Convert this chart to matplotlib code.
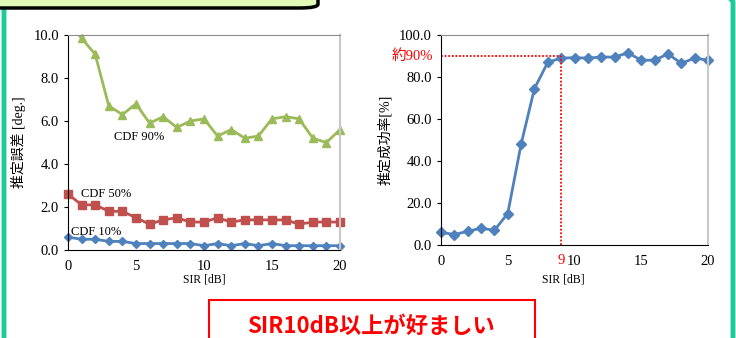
import numpy as np
import matplotlib
matplotlib.use("Agg")
import matplotlib.pyplot as plt
from matplotlib.patches import FancyBboxPatch, Rectangle

# data
sir = list(range(0, 21))
cdf90 = [10.6, 9.85, 9.1, 6.7, 6.3, 6.8, 5.9, 6.2, 5.7, 6.0, 6.1,
         5.3, 5.6, 5.2, 5.3, 6.1, 6.2, 6.1, 5.2, 5.0, 5.6]
cdf50 = [2.6, 2.1, 2.1, 1.8, 1.8, 1.5, 1.2, 1.4, 1.5, 1.3, 1.3,
         1.5, 1.3, 1.4, 1.4, 1.4, 1.4, 1.2, 1.3, 1.3, 1.3]
cdf10 = [0.6, 0.5, 0.5, 0.4, 0.4, 0.3, 0.3, 0.3, 0.3, 0.3, 0.2,
         0.3, 0.2, 0.3, 0.2, 0.3, 0.2, 0.2, 0.2, 0.2, 0.2]
success = [6, 5, 6.5, 8, 7, 15, 48, 74.5, 87, 89, 89.2,
           89, 89.5, 89.5, 91.5, 88, 88, 91, 86.5, 89, 88]
mark_x = 9
mark_y = 90

SERIF = ['Liberation Serif', 'Noto Sans CJK JP']
GOTH = ['Noto Sans CJK JP', 'DejaVu Sans']
plt.rcParams['font.family'] = SERIF

c_green = '#9BBB59'
c_red = '#C0504D'
c_blue = '#4F81BD'

fig = plt.figure(figsize=(7.36, 3.38), dpi=100)

def style_axes(ax):
    ax.set_xlim(0, 20)
    ax.set_xticks([0, 5, 10, 15, 20])
    ax.tick_params(axis='x', length=0, pad=7, labelsize=10.5)
    ax.tick_params(axis='y', direction='out', length=3, labelsize=10.5)
    ax.spines['left'].set_color('black')
    ax.spines['bottom'].set_color('black')
    ax.spines['top'].set_color('#8C8C8C')
    ax.spines['right'].set_color('#C8C8C8')
    ax.spines['right'].set_linewidth(1.5)
    ax.yaxis.set_major_formatter(matplotlib.ticker.FormatStrFormatter('%.1f'))

# left chart: estimation error
ax1 = fig.add_axes([68/736, 1-250/338, (340-68)/736, (250-35)/338])
ax1.plot(sir, cdf90, color=c_green, lw=2)
g = np.array(cdf90, dtype=float)
g[g > 10] = np.nan
ax1.plot(sir, g, color=c_green, lw=0, marker='^', ms=6, clip_on=False)
ax1.plot(sir, cdf50, color=c_red, lw=2, marker='s', ms=5.5, clip_on=False)
ax1.plot(sir, cdf10, color=c_blue, lw=2, marker='D', ms=4, clip_on=False)
ax1.set_ylim(0, 10)
ax1.set_yticks([0, 2, 4, 6, 8, 10])
style_axes(ax1)
ax1.text(3.4, 5.1, 'CDF 90%', fontsize=9)
ax1.text(0.95, 2.45, 'CDF 50%', fontsize=9)
ax1.text(0.25, 0.7, 'CDF 10%', fontsize=9)
ax1.set_ylabel('推定誤差 [deg.]', fontsize=10, labelpad=5)
fig.text(204/736, 1 - 280/338, 'SIR [dB]', ha='center', va='center',
         fontsize=8.5)

# right chart: success rate
ax2 = fig.add_axes([441/736, 1-245/338, (708-441)/736, (245-35)/338])
ax2.plot(sir, success, color=c_blue, lw=2, marker='D', ms=5, clip_on=False)
ax2.plot([0, mark_x], [mark_y, mark_y], color='red', lw=1.3, ls=(0, (1, 1)))
ax2.plot([mark_x, mark_x], [0, mark_y], color='red', lw=1.3, ls=(0, (1, 1)))
ax2.set_ylim(0, 100)
ax2.set_yticks([0, 20, 40, 60, 80, 100])
style_axes(ax2)
ax2.text(mark_x, -0.045, str(mark_x), transform=ax2.get_xaxis_transform(),
         ha='center', va='top', color='red', fontsize=10.5)
ax2.text(-0.03, mark_y, '約90%', transform=ax2.get_yaxis_transform(),
         ha='right', va='center', color='red', fontsize=10.5)
ax2.set_ylabel('推定成功率[%]', fontsize=10, labelpad=5)
fig.text(563/736, 1 - 280/338, 'SIR [dB]', ha='center', va='center',
         fontsize=8.5)

# slide decorations: green frame and yellow title tab
frame = FancyBboxPatch((4/736, -0.2), (733-4)/736, 1.23 - 0.01,
                       boxstyle='round,pad=0,rounding_size=0.06',
                       transform=fig.transFigure, fill=False,
                       edgecolor='#1DCB98', lw=3.5, mutation_aspect=338/736)
fig.add_artist(frame)
tab = FancyBboxPatch((-0.05, 1 - 8/338), 318/736 + 0.05, 0.2,
                     boxstyle='round,pad=0,rounding_size=0.025',
                     transform=fig.transFigure, facecolor='#E1F8B6',
                     edgecolor='black', lw=2.5, mutation_aspect=338/736,
                     zorder=5)
fig.add_artist(tab)

box = Rectangle((209/736, -0.05), (535-209)/736, 1 - 300/338 + 0.05,
                transform=fig.transFigure, fill=False, edgecolor='red', lw=1.5)
fig.add_artist(box)
fig.text(371/736, 1 - 326/338, 'SIR10dB以上が好ましい', color='red',
         fontsize=16, fontweight='bold', family=GOTH, ha='center', va='center')

fig.savefig('out.png', dpi=100)
